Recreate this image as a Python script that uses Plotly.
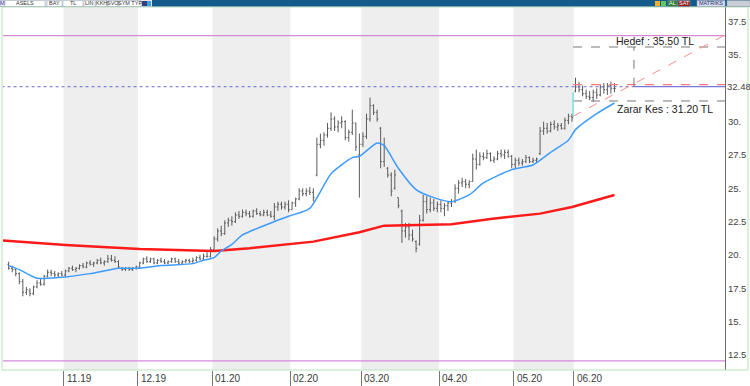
import plotly.graph_objects as go

# ---------------- data ----------------
month_labels = ["11.19", "12.19", "01.20", "02.20", "03.20", "04.20", "05.20", "06.20"]
month_start_idx = [16, 37, 58, 80, 100, 122, 143, 160]
shaded_months = [(16, 37), (58, 80), (100, 122), (143, 160)]

open_ = [
    # Oct
    19.3, 19.0, 18.9, 18.6, 18.0, 17.2, 17.3, 17.1, 17.6, 17.9, 17.8, 18.4, 18.7, 18.6, 18.5, 18.6,
    # Nov
    18.5, 18.8, 19.0, 18.9, 19.0, 19.2, 19.1, 19.4, 19.3, 19.4, 19.6, 19.4, 19.5, 19.7, 19.6, 19.5, 19.0, 18.9, 19.0, 18.9, 19.0,
    # Dec
    19.1, 19.4, 19.7, 19.5, 19.7, 19.4, 19.6, 19.5, 19.4, 19.5, 19.7, 19.5, 19.4, 19.5, 19.6, 19.5, 19.6, 19.8, 19.7, 19.9, 19.9,
    # Jan
    20.4, 21.2, 21.8, 21.6, 22.4, 22.6, 22.5, 23.0, 22.9, 23.2, 23.1, 22.9, 23.3, 23.1, 23.0, 23.2, 23.0, 22.9, 23.6, 23.8, 23.6, 23.8,
    # Feb
    23.4, 23.9, 24.2, 24.8, 24.6, 24.8, 24.7, 26.0, 28.3, 28.6, 29.0, 29.5, 30.2, 29.6, 29.9, 30.0, 28.8, 29.2, 29.9, 27.5,
    # Mar
    28.3, 28.9, 30.2, 31.2, 30.7, 29.5, 27.0, 26.5, 26.0, 25.0, 24.3, 23.3, 21.8, 22.1, 21.5, 21.0, 20.8, 22.6, 24.0, 23.4, 23.9, 23.5,
    # Apr
    23.8, 23.5, 23.7, 23.9, 24.0, 25.0, 25.4, 25.5, 25.3, 25.5, 27.2, 26.8, 27.4, 27.3, 27.6, 27.1, 27.2, 27.6, 27.5, 27.7, 27.4,
    # May
    26.8, 27.1, 26.9, 27.0, 27.3, 27.0, 27.1, 27.6, 29.3, 29.5, 29.3, 29.8, 29.6, 29.7, 29.5, 30.1, 30.4,
    # Jun
    32.3, 32.6, 32.4, 32.1, 31.9, 31.8, 32.2, 32.0, 32.6, 32.4, 32.7, 32.5,
]
high = [
    19.5, 19.2, 19.0, 18.7, 18.2, 17.6, 17.5, 17.7, 18.1, 18.2, 18.5, 18.9, 18.9, 18.8, 18.7, 18.8,
    18.9, 19.1, 19.2, 19.1, 19.3, 19.4, 19.5, 19.6, 19.5, 19.7, 19.8, 19.6, 20.0, 20.0, 19.9, 19.6, 19.1, 19.1, 19.1, 19.1, 19.2,
    19.5, 19.8, 19.9, 19.8, 19.8, 19.7, 19.8, 19.7, 19.6, 19.8, 19.8, 19.7, 19.6, 19.7, 19.7, 19.8, 19.9, 20.0, 20.1, 20.2, 20.6,
    21.4, 22.0, 22.2, 22.6, 22.8, 22.9, 23.2, 23.3, 23.4, 23.4, 23.3, 23.4, 23.5, 23.3, 23.4, 23.4, 23.3, 23.9, 24.0, 24.0, 24.0, 24.1,
    24.0, 24.3, 25.0, 25.0, 25.0, 25.1, 25.0, 28.8, 29.1, 29.2, 29.9, 30.7, 30.4, 30.1, 30.4, 30.1, 29.4, 30.9, 29.9, 29.1,
    29.2, 30.6, 31.8, 31.3, 30.9, 29.6, 28.8, 26.6, 26.2, 26.4, 24.3, 23.4, 22.4, 22.4, 21.9, 21.1, 23.0, 24.5, 24.4, 24.3, 24.2, 24.0,
    24.1, 23.9, 24.0, 24.2, 25.3, 25.6, 25.8, 25.7, 25.6, 27.6, 27.9, 27.7, 27.7, 27.9, 27.7, 27.4, 27.8, 27.9, 27.9, 27.9, 27.5,
    27.3, 27.3, 27.2, 27.5, 27.4, 27.3, 27.3, 29.6, 30.0, 29.9, 30.0, 30.1, 29.9, 29.9, 30.3, 30.6, 30.6,
    33.3, 33.0, 32.7, 32.4, 32.3, 32.4, 32.5, 32.8, 32.9, 32.9, 33.0, 32.9,
]
low = [
    18.9, 18.7, 18.4, 17.8, 16.9, 17.0, 16.9, 17.0, 17.5, 17.7, 17.7, 18.3, 18.4, 18.3, 18.3, 18.4,
    18.4, 18.7, 18.8, 18.7, 18.9, 19.0, 19.0, 19.2, 19.1, 19.3, 19.3, 19.2, 19.4, 19.5, 19.4, 19.0, 18.8, 18.8, 18.8, 18.8, 18.9,
    19.0, 19.3, 19.4, 19.4, 19.3, 19.3, 19.4, 19.3, 19.3, 19.4, 19.4, 19.3, 19.3, 19.4, 19.4, 19.4, 19.5, 19.6, 19.6, 19.8, 19.8,
    20.3, 21.0, 21.4, 21.5, 22.1, 22.2, 22.4, 22.7, 22.8, 22.9, 22.8, 22.8, 23.0, 22.9, 22.9, 22.9, 22.8, 22.6, 23.3, 23.4, 23.4, 23.2,
    23.4, 23.6, 24.1, 24.4, 24.4, 24.5, 24.0, 25.9, 28.0, 28.2, 28.8, 29.3, 29.3, 29.2, 29.5, 28.6, 28.5, 29.0, 27.8, 24.3,
    28.1, 28.7, 30.0, 30.5, 30.0, 26.5, 26.6, 25.8, 24.4, 24.9, 23.5, 20.9, 21.3, 21.1, 21.0, 20.2, 20.7, 22.5, 23.1, 23.2, 23.3, 23.2,
    23.2, 22.9, 23.3, 23.6, 23.9, 24.6, 25.1, 25.0, 25.0, 25.5, 26.4, 26.7, 27.1, 27.2, 27.0, 26.9, 27.1, 27.3, 27.2, 27.3, 26.5,
    26.5, 26.7, 26.7, 26.9, 26.9, 26.9, 26.9, 27.5, 29.0, 29.1, 29.2, 29.4, 29.3, 29.4, 29.4, 29.8, 30.0,
    32.2, 32.2, 31.9, 31.7, 31.6, 31.5, 31.7, 31.9, 32.1, 32.0, 32.1, 32.2,
]
close = [
    19.0, 18.9, 18.6, 18.0, 17.2, 17.4, 17.1, 17.6, 17.9, 17.8, 18.4, 18.7, 18.6, 18.5, 18.6, 18.5,
    18.8, 19.0, 18.9, 19.0, 19.2, 19.1, 19.4, 19.3, 19.4, 19.6, 19.4, 19.5, 19.7, 19.6, 19.5, 19.1, 18.9, 19.0, 18.9, 19.0, 19.1,
    19.4, 19.7, 19.5, 19.7, 19.4, 19.6, 19.5, 19.4, 19.5, 19.7, 19.5, 19.4, 19.5, 19.6, 19.5, 19.6, 19.8, 19.7, 19.9, 19.9, 20.4,
    21.2, 21.8, 21.6, 22.4, 22.6, 22.5, 23.0, 22.9, 23.2, 23.1, 22.9, 23.3, 23.1, 23.0, 23.2, 23.0, 22.9, 23.6, 23.8, 23.6, 23.8, 23.4,
    23.9, 24.2, 24.8, 24.6, 24.8, 24.7, 24.3, 28.3, 28.6, 29.0, 29.5, 30.2, 29.6, 29.9, 30.0, 28.8, 29.2, 29.9, 28.1, 28.3,
    28.9, 30.2, 31.2, 30.7, 30.2, 27.0, 28.2, 26.0, 24.8, 26.0, 23.7, 21.8, 22.1, 21.5, 21.2, 20.5, 22.6, 24.0, 23.4, 23.9, 23.5, 23.8,
    23.5, 23.7, 23.9, 24.0, 25.0, 25.4, 25.5, 25.3, 25.5, 27.2, 26.8, 27.4, 27.3, 27.6, 27.1, 27.2, 27.6, 27.5, 27.7, 27.4, 26.8,
    27.1, 26.9, 27.0, 27.3, 27.0, 27.1, 27.2, 29.3, 29.5, 29.3, 29.8, 29.6, 29.7, 29.5, 30.1, 30.4, 30.3,
    32.6, 32.4, 32.1, 31.9, 31.8, 32.2, 32.0, 32.6, 32.4, 32.7, 32.5, 32.48,
]
bar_idx = list(range(len(close)))

# short moving average (blue) read at selected bars
ma_short_idx = [0, 3, 8, 14, 23, 31, 37, 43, 52, 55, 58, 60, 63, 66, 74, 79, 85, 91, 97, 99, 104, 106,
                110, 115, 120, 125, 130, 134, 142, 148, 153, 158, 160, 166, 171]
ma_short_val = [19.2, 18.9, 18.25, 18.3, 18.6, 19.0, 19.0, 19.2, 19.35, 19.6, 19.8, 20.3, 20.8, 21.5, 22.4, 22.9,
                23.5, 26.1, 27.3, 27.4, 28.4, 28.2, 26.5, 24.9, 24.3, 24.0, 24.5, 25.4, 26.4, 26.75, 27.7, 28.6,
                29.4, 30.6, 31.4]
# long moving average (red)
ma_long_idx = [-2, 16, 37, 58, 68, 79, 86, 99, 106, 125, 136, 150, 159, 171]
ma_long_val = [21.1, 20.75, 20.45, 20.3, 20.5, 20.8, 21.0, 21.7, 22.2, 22.3, 22.7, 23.1, 23.6, 24.5]

y_ticks = [12.5, 15, 17.5, 20, 22.5, 25, 27.5, 30, 35, 37.5]
y_tick_text = ["12.5", "15.", "17.5", "20.", "22.5", "25.", "27.5", "30.", "35.", "37.5"]
last_price_label = "32.48"
last_price_level = 32.62

# drawn levels / projection
upper_band = 36.45
lower_band = 12.05
target_level = 35.6
stop_level = 31.55
entry_level = 32.78
proj_start_idx = 159.3
proj_mid_idx = 176.5
proj_start_val = 30.4
proj_end_idx = 202.2
proj_end_val = 36.5
gap_low = 30.45
gap_high = 32.2
target_text = "Hedef : 35.50 TL"
stop_text = "Zarar Kes : 31.20 TL"

# ---------------- layout geometry ----------------
W, H = 750, 386
L, R, T, B = 3, 25, 7, 16
PW, PH = W - L - R, H - T - B


def pxx(p):
    return (p - L) / PW


def pxy(p):
    return (H - B - p) / PH


fig = go.Figure()

fig.add_trace(go.Ohlc(
    x=bar_idx, open=open_, high=high, low=low, close=close,
    increasing=dict(line=dict(color="#5a5a5a", width=1)),
    decreasing=dict(line=dict(color="#5a5a5a", width=1)),
    tickwidth=0.35, hoverinfo="skip", showlegend=False,
))
fig.add_trace(go.Scatter(x=ma_long_idx, y=ma_long_val, mode="lines",
                         line=dict(color="#ff1a1a", width=2.5), hoverinfo="skip", showlegend=False))
fig.add_trace(go.Scatter(x=ma_short_idx, y=ma_short_val, mode="lines",
                         line=dict(color="#3d9bff", width=1.5, shape="spline", smoothing=0.6),
                         hoverinfo="skip", showlegend=False))

shapes = []
# shaded months
for a, b in shaded_months:
    shapes.append(dict(type="rect", xref="x", yref="paper", x0=a - 0.5, x1=b - 0.5, y0=0, y1=1,
                       fillcolor="#eeeeee", line=dict(width=0), layer="below"))
# purple bands
for v in (upper_band, lower_band):
    shapes.append(dict(type="line", xref="paper", yref="y", x0=0, x1=1, y0=v, y1=v,
                       line=dict(color="#d68ad6", width=1.3)))
# last price dotted then solid
shapes.append(dict(type="line", xref="x", yref="y", x0=-2, x1=proj_mid_idx, y0=last_price_level, y1=last_price_level,
                   line=dict(color="#6a6ad0", width=1, dash="dot")))
shapes.append(dict(type="line", xref="x", yref="y", x0=proj_mid_idx, x1=proj_end_idx, y0=last_price_level,
                   y1=last_price_level, line=dict(color="#7878d8", width=1.2)))
# red dashed entry
shapes.append(dict(type="line", xref="x", yref="y", x0=proj_start_idx, x1=proj_end_idx, y0=entry_level, y1=entry_level,
                   line=dict(color="#ff7b7b", width=1.2, dash="dash")))
# target / stop
for v in (target_level, stop_level):
    shapes.append(dict(type="line", xref="x", yref="y", x0=proj_start_idx, x1=proj_end_idx, y0=v, y1=v,
                       line=dict(color="#777777", width=1, dash="dash")))
shapes.append(dict(type="line", xref="x", yref="y", x0=proj_mid_idx, x1=proj_mid_idx, y0=last_price_level,
                   y1=target_level, line=dict(color="#777777", width=1, dash="dash")))
# diagonal projection
shapes.append(dict(type="line", xref="x", yref="y", x0=proj_start_idx, x1=proj_end_idx, y0=proj_start_val,
                   y1=proj_end_val, line=dict(color="#ff8c8c", width=1, dash="dash")))
# gap marker
shapes.append(dict(type="line", xref="x", yref="y", x0=proj_start_idx, x1=proj_start_idx, y0=gap_low, y1=gap_high,
                   line=dict(color="#70e4e4", width=1.5)))
# green frame
shapes.append(dict(type="rect", xref="paper", yref="paper", x0=pxx(2), x1=pxx(748), y0=pxy(370), y1=pxy(7),
                   line=dict(color="#b9e3b9", width=1), fillcolor="rgba(0,0,0,0)"))

# toolbar
shapes.append(dict(type="rect", xref="paper", yref="paper", x0=pxx(0), x1=pxx(750), y0=pxy(6.5), y1=pxy(0),
                   fillcolor="#125b8a", line=dict(width=0)))
shapes.append(dict(type="rect", xref="paper", yref="paper", x0=pxx(0), x1=pxx(152), y0=pxy(6.5), y1=pxy(0),
                   fillcolor="#e2e6ec", line=dict(width=0)))
toolbar_boxes = [(0, 5, "#e8ecf5", "#3a3aa0", "M"), (5, 45, "#ffffff", "#333333", "ASELS"),
                 (47, 62, "#ffffff", "#333333", "BAY"), (63, 83, "#ffffff", "#333333", "TL"),
                 (84, 95, "#ffffff", "#333333", "LIN"), (96, 107, "#ffffff", "#333333", "KKH"),
                 (108, 118, "#ffffff", "#333333", "SVO"), (119, 141, "#ffffff", "#333333", "SYM TYP"),
                 (668, 677, "#2a7d2a", "#ffffff", "AL"), (678, 690, "#8d1d1d", "#ffffff", "SAT"),
                 (697, 725, "#d9dcef", "#22306a", "MATRIKS"), (727, 750, "#c9ced6", "#555555", "")]
annotations = []
for x0, x1, fc, tc, txt in toolbar_boxes:
    shapes.append(dict(type="rect", xref="paper", yref="paper", x0=pxx(x0), x1=pxx(x1), y0=pxy(6.5), y1=pxy(0.5),
                       fillcolor=fc, line=dict(color="#9aa3b0", width=0.5)))
    if txt:
        annotations.append(dict(xref="paper", yref="paper", x=pxx((x0 + x1) / 2), y=pxy(3.4), text=txt,
                                showarrow=False, font=dict(size=5.5, color=tc, family="Liberation Sans"),
                                xanchor="center", yanchor="middle"))
shapes.append(dict(type="rect", xref="paper", yref="paper", x0=pxx(142), x1=pxx(147), y0=pxy(6), y1=pxy(1),
                   fillcolor="#33437a", line=dict(width=0)))
shapes.append(dict(type="rect", xref="paper", yref="paper", x0=pxx(147), x1=pxx(151), y0=pxy(6), y1=pxy(1),
                   fillcolor="#3ea0e0", line=dict(width=0)))
shapes.append(dict(type="rect", xref="paper", yref="paper", x0=pxx(655), x1=pxx(660), y0=pxy(6), y1=pxy(1),
                   fillcolor="#f0b030", line=dict(width=0)))
shapes.append(dict(type="rect", xref="paper", yref="paper", x0=pxx(661), x1=pxx(666), y0=pxy(6), y1=pxy(1),
                   fillcolor="#5fc85f", line=dict(width=0)))

# x labels right of the month ticks
for s, lab in zip(month_start_idx, month_labels):
    annotations.append(dict(xref="x", yref="paper", x=s - 0.5, y=pxy(378), text=lab, showarrow=False,
                            xanchor="left", yanchor="middle", xshift=1,
                            font=dict(size=10, color="#3a3a3a", family="Liberation Sans Narrow, Liberation Sans")))
# price label
annotations.append(dict(xref="paper", yref="y", x=1, y=last_price_level, text=last_price_label, showarrow=False,
                        xanchor="left", yanchor="middle", xshift=0,
                        font=dict(size=9.5, color="#444444", family="Liberation Sans")))
annotations.append(dict(xref="x", yref="y", x=182.5, y=36.05, text=target_text, showarrow=False,
                        xanchor="center", yanchor="middle",
                        font=dict(size=10.5, color="#222222", family="Liberation Sans")))
annotations.append(dict(xref="x", yref="y", x=185.2, y=30.92, text=stop_text, showarrow=False,
                        xanchor="center", yanchor="middle",
                        font=dict(size=10.5, color="#222222", family="Liberation Sans")))

fig.update_layout(
    width=W, height=H,
    margin=dict(l=L, r=R, t=T, b=B, pad=0, autoexpand=False),
    paper_bgcolor="#ffffff", plot_bgcolor="#ffffff",
    shapes=shapes, annotations=annotations,
    showlegend=False,
    xaxis=dict(range=[-1.6, 202.2], showgrid=False, zeroline=False, showline=False,
               tickvals=[s - 0.5 for s in month_start_idx], showticklabels=False,
               ticks="outside", ticklen=15, tickcolor="#777777", tickwidth=1,
               rangeslider=dict(visible=False), fixedrange=True, automargin=False),
    yaxis=dict(range=[11.37, 38.6], side="right", showgrid=False, zeroline=False,
               showline=True, linecolor="#6b6b6b", linewidth=1, mirror=False,
               tickvals=y_ticks, ticktext=y_tick_text, ticks="", ticklabelstandoff=0,
               tickfont=dict(size=9.5, color="#444444", family="Liberation Sans"), fixedrange=True,
               automargin=False),
)

fig.write_html("out.html", config={"displayModeBar": False},
               post_script="document.body.style.margin='0';document.body.style.padding='0';")
